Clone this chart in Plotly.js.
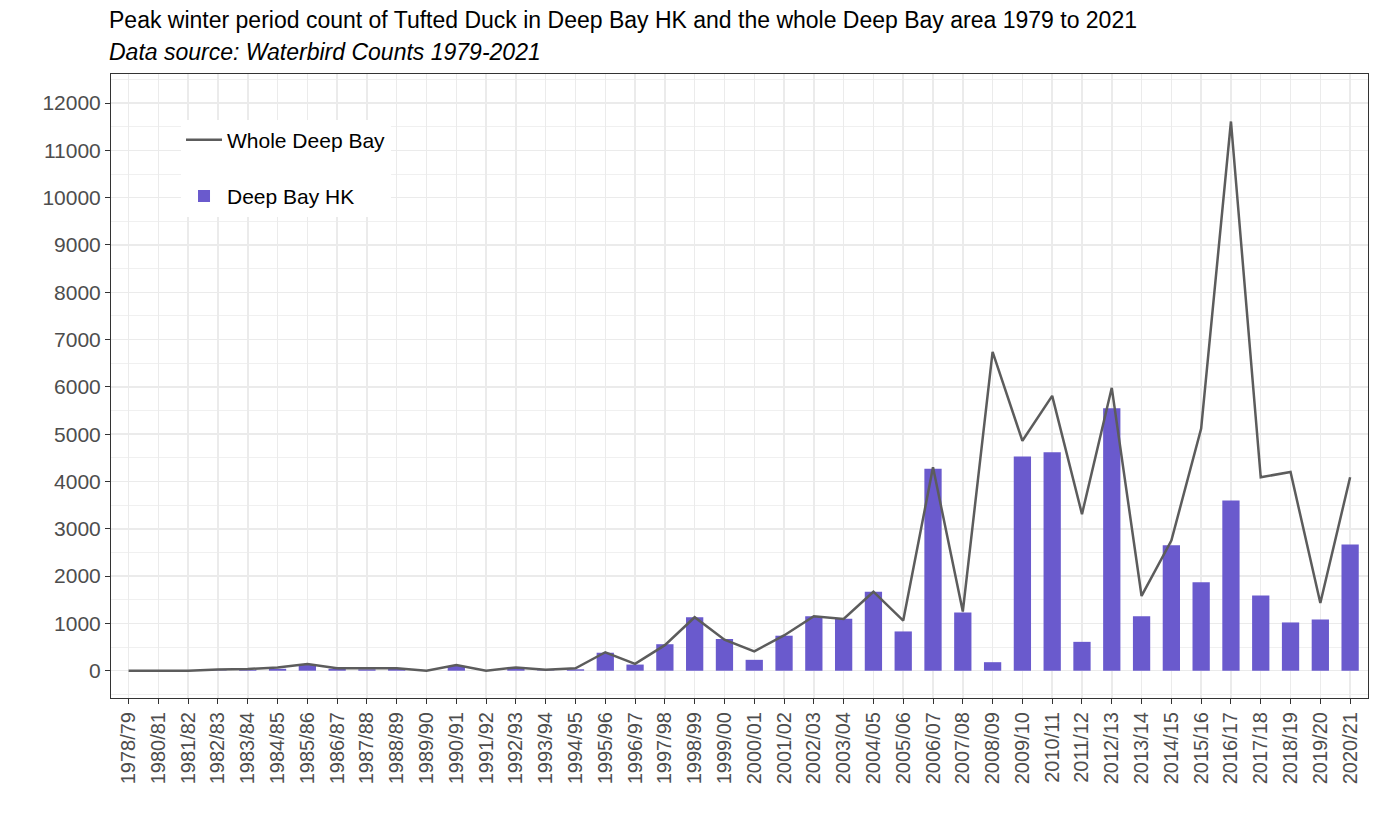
<!DOCTYPE html>
<html>
<head>
<meta charset="utf-8">
<script src="https://cdn.plot.ly/plotly-3.0.1.min.js"></script>
<style>html,body{margin:0;padding:0;background:#fff;}#chart{width:1379px;height:827px;}</style>
</head>
<body>
<div id="chart"></div>
<script>
var categories = ['1978/79','1980/81','1981/82','1982/83','1983/84','1984/85','1985/86','1986/87','1987/88','1988/89',
  '1989/90','1990/91','1991/92','1992/93','1993/94','1994/95','1995/96','1996/97','1997/98','1998/99',
  '1999/00','2000/01','2001/02','2002/03','2003/04','2004/05','2005/06','2006/07','2007/08','2008/09',
  '2009/10','2010/11','2011/12','2012/13','2013/14','2014/15','2015/16','2016/17','2017/18','2018/19',
  '2019/20','2020/21'];
var deepBayHK = [0,0,0,10,15,40,120,40,30,50,
  0,100,0,70,10,30,380,130,560,1130,
  670,230,740,1150,1100,1670,830,4270,1230,180,
  4530,4620,610,5550,1150,2650,1870,3600,1590,1020,
  1080,2670];
var wholeDeepBay = [0,0,0,25,35,70,140,50,50,50,
  0,120,0,70,20,50,390,145,540,1130,
  655,410,745,1150,1095,1670,1060,4300,1250,6740,
  4860,5810,3310,5980,1580,2750,5120,11610,4090,4200,
  1430,4090];
var yTicks = [0,1000,2000,3000,4000,5000,6000,7000,8000,9000,10000,11000,12000];

var font = '"Liberation Sans", Arial, sans-serif';
var traces = [
  {type:'bar', x:categories, y:deepBayHK, name:'Deep Bay HK', width:0.58,
   marker:{color:'#6A5ACD'}, legendrank:2, legendgroup:'b'},
  {type:'scatter', mode:'lines', x:categories, y:wholeDeepBay, name:'Whole Deep Bay',
   line:{color:'#5c5c5c', width:2.5}, legendrank:1, legendgroup:'a'}
];
var layout = {
  width:1379, height:827,
  margin:{l:111, r:11, t:74, b:129},
  paper_bgcolor:'#ffffff', plot_bgcolor:'#ffffff',
  font:{family:font, color:'#000'},
  title:{text:'Peak winter period count of Tufted Duck in Deep Bay HK and the whole Deep Bay area 1979 to 2021',
    x:109/1379, xanchor:'left', xref:'container', y:1-20/827, yanchor:'middle', yref:'container',
    font:{family:font, size:23, color:'#000'}},
  annotations:[{text:'<i>Data source: Waterbird Counts 1979-2021</i>', xref:'paper', yref:'paper',
    x:-4/1257, y:1+(74-52)/624, xanchor:'left', yanchor:'middle', showarrow:false,
    font:{family:font, size:23, color:'#000'}}],
  showlegend:true,
  legend:{x:0.0557, y:0.927, xanchor:'left', yanchor:'top', bgcolor:'#ffffff',
    font:{family:font, size:21, color:'#000'}, itemwidth:36, tracegroupgap:26,
    traceorder:'grouped', borderwidth:0},
  xaxis:{type:'category', range:[-0.59, 41.6], tickangle:-90,
    tickfont:{family:font, size:20, color:'#4d4d4d'},
    ticks:'outside', ticklen:5, tickcolor:'#333333', tickwidth:1,
    showgrid:true, gridcolor:'#ebebeb', gridwidth:1.5,
    showline:true, linecolor:'#333333', linewidth:1, mirror:true, zeroline:false,
    fixedrange:true},
  yaxis:{range:[-577, 12614], tickvals:yTicks, ticktext:yTicks.map(String),
    tickfont:{family:font, size:21, color:'#4d4d4d'},
    ticks:'outside', ticklen:5, tickcolor:'#333333', tickwidth:1,
    showgrid:true, gridcolor:'#ebebeb', gridwidth:1.5,
    minor:{dtick:500, tick0:500, showgrid:true, gridcolor:'#f0f0f0', gridwidth:1, ticks:''},
    showline:true, linecolor:'#333333', linewidth:1, mirror:true, zeroline:false,
    fixedrange:true}
};
Plotly.newPlot('chart', traces, layout, {displayModeBar:false, staticPlot:true});
</script>
</body>
</html>
